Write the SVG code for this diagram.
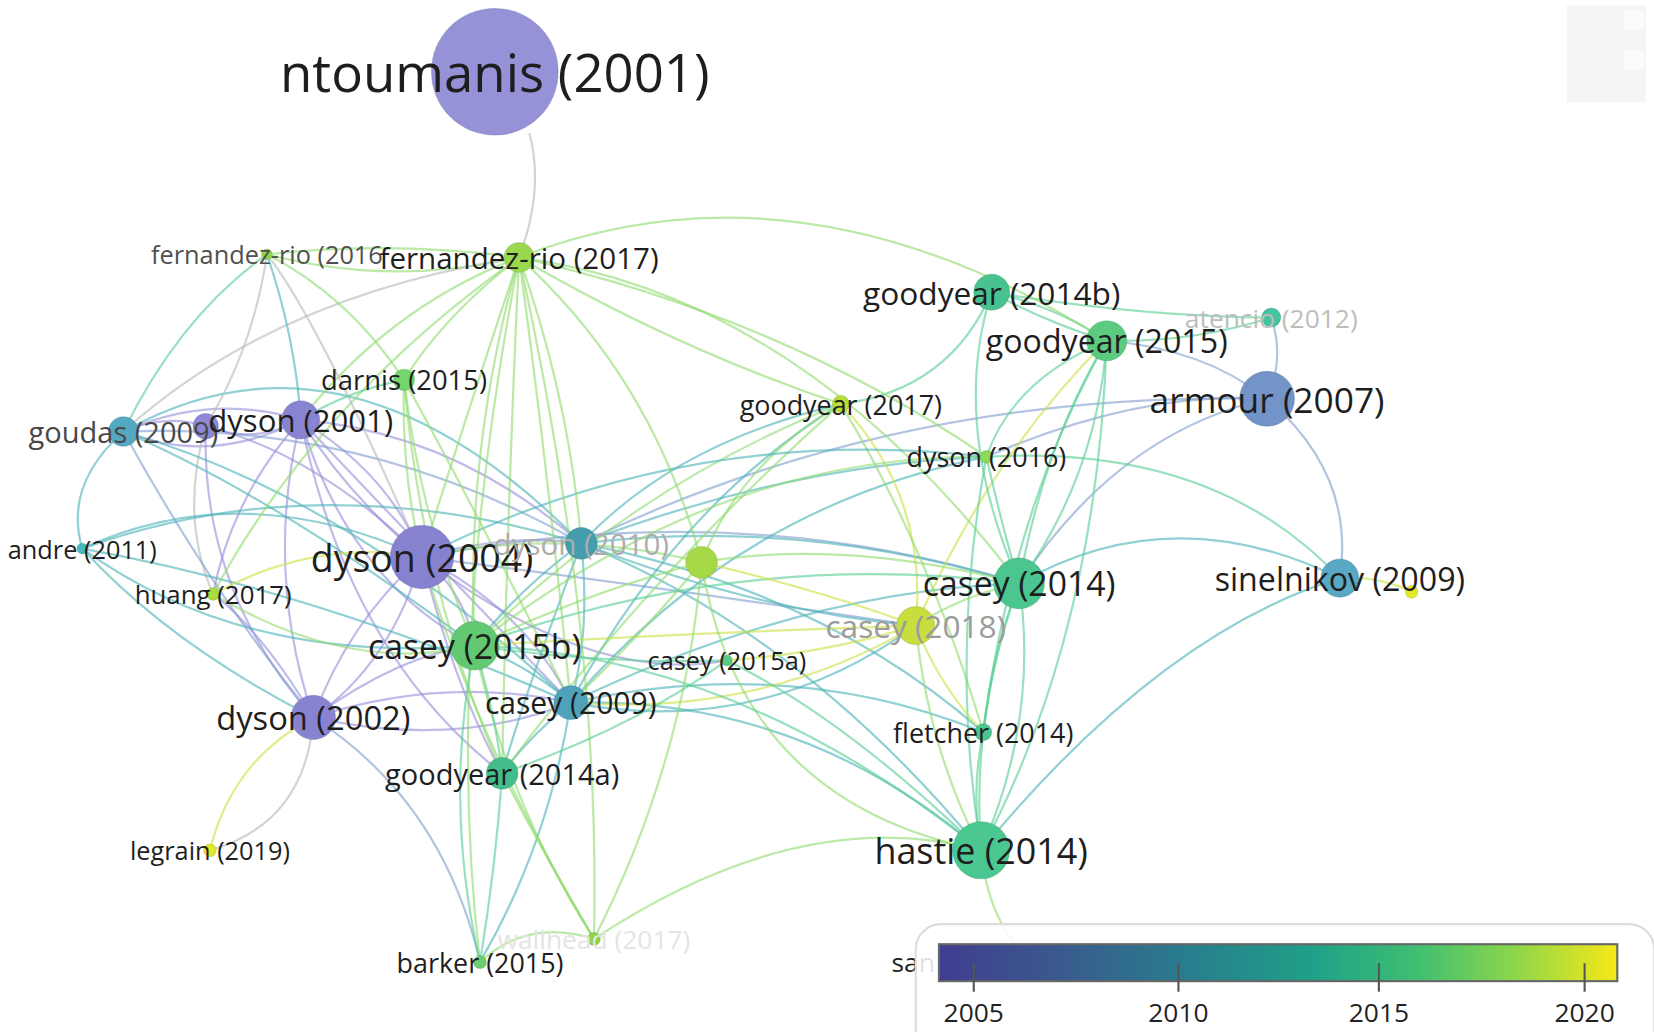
<svg xmlns="http://www.w3.org/2000/svg" width="1654" height="1032" viewBox="0 0 1654 1032">
<defs>
<style>
.e{fill:none;stroke-width:2.1;stroke-opacity:.62;stroke-linecap:round}
.ep{stroke:#9792da}.eb{stroke:#82a0d0}.et{stroke:#4db3b8}.eg{stroke:#5acf96}.el{stroke:#92dc70}.ey{stroke:#cde246}.ex{stroke:#b4bdb9}
.n{stroke-width:1;stroke-opacity:.3}
.l{font-family:"Open Sans","Noto Sans","DejaVu Sans",sans-serif;fill:#1e1e1e;text-anchor:middle;dominant-baseline:central}
.t{font-family:"Open Sans","Noto Sans","DejaVu Sans",sans-serif;fill:#222;font-size:25px;text-anchor:middle}
</style>
<linearGradient id="vir" x1="0" y1="0" x2="1" y2="0">
<stop offset="0" stop-color="#403d8f"/>
<stop offset="0.18" stop-color="#3a5a8e"/>
<stop offset="0.38" stop-color="#27808d"/>
<stop offset="0.55" stop-color="#1fa088"/>
<stop offset="0.7" stop-color="#3dbe72"/>
<stop offset="0.85" stop-color="#8ed64a"/>
<stop offset="1" stop-color="#f7e817"/>
</linearGradient>
</defs>
<rect width="1654" height="1032" fill="#ffffff"/>
<g transform="scale(1.055)">
<g id="artifact">
<rect x="1485" y="5" width="75" height="92" fill="#f5f5f5"/>
<rect x="1540" y="10" width="18" height="18" fill="#fbfbfb"/>
<rect x="1540" y="48" width="18" height="18" fill="#fbfbfb"/>
</g>
<g id="connectors">
<path class="e ep" d="M117 409 Q156 392 195 404"/>
<path class="e ep" d="M117 409 Q200 372 285 398"/>
<path class="e ep" d="M117 409 Q200 442 285 398"/>
<path class="e ep" d="M195 404 Q240 422 285 398"/>
<path class="e ep" d="M285 398 Q330 470 400 528"/>
<path class="e ep" d="M285 398 Q370 450 400 528"/>
<path class="e ep" d="M285 398 Q250 540 297 680"/>
<path class="e ep" d="M285 398 Q330 550 450 612"/>
<path class="e ep" d="M285 398 Q400 520 541 666"/>
<path class="e ep" d="M285 398 Q330 620 476 733"/>
<path class="e ep" d="M285 398 Q430 410 551 515"/>
<path class="e eb" d="M117 409 Q350 400 551 515"/>
<path class="e ep" d="M195 404 Q190 560 297 680"/>
<path class="e ep" d="M195 404 Q300 430 400 528"/>
<path class="e ex" d="M195 404 Q170 490 202 563"/>
<path class="e ep" d="M400 528 Q330 590 297 680"/>
<path class="e ep" d="M400 528 Q370 630 297 680"/>
<path class="e ep" d="M400 528 Q440 560 450 612"/>
<path class="e ep" d="M400 528 Q500 580 541 666"/>
<path class="e ep" d="M400 528 Q430 650 476 733"/>
<path class="e ep" d="M400 528 Q480 505 551 515"/>
<path class="e ep" d="M400 528 Q560 650 689 626"/>
<path class="e eb" d="M400 528 Q700 470 966 553"/>
<path class="e eb" d="M400 528 Q650 560 868 593"/>
<path class="e ep" d="M297 680 Q380 620 450 612"/>
<path class="e ep" d="M297 680 Q420 640 541 666"/>
<path class="e ep" d="M297 680 Q430 710 541 666"/>
<path class="e eb" d="M297 680 Q420 760 455 912"/>
<path class="e ex" d="M297 680 Q290 780 199 806"/>
<path class="e ey" d="M297 680 Q220 720 199 806"/>
<path class="e eb" d="M297 680 Q200 560 117 409"/>
<path class="e ep" d="M297 680 Q250 600 202 563"/>
<path class="e et" d="M297 680 Q160 610 78 520"/>
<path class="e ep" d="M285 398 Q220 470 202 563"/>
<path class="e et" d="M117 409 Q60 460 78 520"/>
<path class="e et" d="M78 520 Q230 450 400 528"/>
<path class="e et" d="M78 520 Q230 630 450 612"/>
<path class="e et" d="M78 520 Q300 560 541 666"/>
<path class="e et" d="M117 409 Q260 470 450 612"/>
<path class="e et" d="M117 409 Q330 470 541 666"/>
<path class="e et" d="M117 409 Q330 290 551 515"/>
<path class="e et" d="M78 520 Q300 440 551 515"/>
<path class="e et" d="M551 515 Q560 600 541 666"/>
<path class="e et" d="M551 515 Q490 560 450 612"/>
<path class="e et" d="M551 515 Q500 650 476 733"/>
<path class="e et" d="M551 515 Q760 490 966 553"/>
<path class="e et" d="M551 515 Q720 580 868 593"/>
<path class="e et" d="M551 515 Q760 600 930 806"/>
<path class="e et" d="M551 515 Q780 560 932 694"/>
<path class="e et" d="M551 515 Q750 440 935 433"/>
<path class="e et" d="M551 515 Q640 420 797 383"/>
<path class="e eb" d="M551 515 Q850 370 1201 378"/>
<path class="e et" d="M541 666 Q720 700 868 593"/>
<path class="e et" d="M541 666 Q760 660 930 806"/>
<path class="e et" d="M541 666 Q750 620 932 694"/>
<path class="e et" d="M541 666 Q760 560 966 553"/>
<path class="e et" d="M541 666 Q500 700 476 733"/>
<path class="e et" d="M541 666 Q500 630 450 612"/>
<path class="e et" d="M541 666 Q520 800 455 912"/>
<path class="e et" d="M541 666 Q640 480 797 383"/>
<path class="e et" d="M541 666 Q700 480 935 433"/>
<path class="e eb" d="M1201 378 Q1218 340 1205 301"/>
<path class="e eb" d="M1201 378 Q1140 330 1049 323"/>
<path class="e eb" d="M1201 378 Q1285 450 1270 548"/>
<path class="e eb" d="M1201 378 Q1060 410 966 553"/>
<path class="e eb" d="M1201 378 Q1080 370 935 433"/>
<path class="e et" d="M1270 548 Q1110 470 966 553"/>
<path class="e et" d="M1270 548 Q1100 600 930 806"/>
<path class="e eg" d="M1270 548 Q1150 420 935 433"/>
<path class="e ey" d="M1270 548 Q1305 545 1338 561"/>
<path class="e eg" d="M1049 323 Q1000 290 940 277"/>
<path class="e eg" d="M1049 323 Q990 305 940 277"/>
<path class="e eg" d="M1049 323 Q1130 325 1205 301"/>
<path class="e eg" d="M940 277 Q1080 300 1205 301"/>
<path class="e eg" d="M1049 323 Q1040 450 966 553"/>
<path class="e eg" d="M1049 323 Q990 420 966 553"/>
<path class="e eg" d="M1049 323 Q1040 600 930 806"/>
<path class="e eg" d="M1049 323 Q960 480 932 694"/>
<path class="e ey" d="M1049 323 Q940 430 868 593"/>
<path class="e eg" d="M1049 323 Q960 360 935 433"/>
<path class="e eg" d="M940 277 Q900 370 797 383"/>
<path class="e el" d="M492 244 Q760 140 1049 323"/>
<path class="e el" d="M492 244 Q760 280 966 553"/>
<path class="e el" d="M797 383 Q640 330 492 244"/>
<path class="e ey" d="M797 383 Q880 470 868 593"/>
<path class="e el" d="M797 383 Q700 440 665 533"/>
<path class="e el" d="M797 383 Q600 460 450 612"/>
<path class="e el" d="M797 383 Q620 540 476 733"/>
<path class="e el" d="M797 383 Q880 520 932 694"/>
<path class="e eg" d="M935 433 Q950 500 966 553"/>
<path class="e eg" d="M935 433 Q900 620 930 806"/>
<path class="e el" d="M935 433 Q680 430 450 612"/>
<path class="e et" d="M935 433 Q650 400 400 528"/>
<path class="e eg" d="M966 553 Q985 680 930 806"/>
<path class="e eg" d="M966 553 Q920 680 930 806"/>
<path class="e eg" d="M966 553 Q940 620 932 694"/>
<path class="e el" d="M966 553 Q910 565 868 593"/>
<path class="e eg" d="M966 553 Q700 520 450 612"/>
<path class="e el" d="M966 553 Q800 510 665 533"/>
<path class="e eg" d="M966 553 Q900 400 940 277"/>
<path class="e ey" d="M868 593 Q890 650 932 694"/>
<path class="e el" d="M868 593 Q880 710 930 806"/>
<path class="e ey" d="M868 593 Q780 620 689 626"/>
<path class="e ey" d="M868 593 Q650 600 450 612"/>
<path class="e ey" d="M868 593 Q720 680 541 666"/>
<path class="e eg" d="M930 806 Q920 750 932 694"/>
<path class="e el" d="M930 806 Q760 760 563 890"/>
<path class="e el" d="M930 806 Q935 860 962 895"/>
<path class="e eg" d="M930 806 Q800 680 689 626"/>
<path class="e el" d="M665 533 Q700 760 930 806"/>
<path class="e eg" d="M930 806 Q700 620 450 612"/>
<path class="e el" d="M665 533 Q530 500 400 528"/>
<path class="e el" d="M665 533 Q560 560 450 612"/>
<path class="e el" d="M665 533 Q610 600 541 666"/>
<path class="e el" d="M665 533 Q620 360 492 244"/>
<path class="e el" d="M665 533 Q650 720 563 890"/>
<path class="e ey" d="M665 533 Q780 560 868 593"/>
<path class="e ex" d="M492 244 Q516 180 502 127"/>
<path class="e el" d="M492 244 Q370 228 253 241"/>
<path class="e el" d="M492 244 Q370 272 253 241"/>
<path class="e el" d="M492 244 Q420 300 383 360"/>
<path class="e el" d="M492 244 Q370 290 285 398"/>
<path class="e ex" d="M492 244 Q260 280 117 409"/>
<path class="e el" d="M492 244 Q440 400 400 528"/>
<path class="e el" d="M492 244 Q440 430 450 612"/>
<path class="e el" d="M492 244 Q520 450 541 666"/>
<path class="e el" d="M492 244 Q480 500 476 733"/>
<path class="e el" d="M492 244 Q540 380 551 515"/>
<path class="e el" d="M492 244 Q300 380 202 563"/>
<path class="e el" d="M492 244 Q740 300 935 433"/>
<path class="e el" d="M492 244 Q420 620 455 912"/>
<path class="e el" d="M492 244 Q570 600 563 890"/>
<path class="e eg" d="M253 241 Q170 300 117 409"/>
<path class="e et" d="M253 241 Q280 320 285 398"/>
<path class="e ex" d="M253 241 Q240 330 195 404"/>
<path class="e el" d="M253 241 Q330 280 383 360"/>
<path class="e ex" d="M253 241 Q300 300 400 528"/>
<path class="e eg" d="M383 360 Q330 370 285 398"/>
<path class="e el" d="M383 360 Q380 450 400 528"/>
<path class="e el" d="M383 360 Q400 500 450 612"/>
<path class="e el" d="M383 360 Q460 500 541 666"/>
<path class="e el" d="M383 360 Q400 560 476 733"/>
<path class="e el" d="M563 890 Q500 870 455 912"/>
<path class="e el" d="M563 890 Q510 800 476 733"/>
<path class="e el" d="M563 890 Q480 760 450 612"/>
<path class="e el" d="M563 890 Q450 700 400 528"/>
<path class="e eg" d="M455 912 Q470 820 476 733"/>
<path class="e eg" d="M455 912 Q420 760 450 612"/>
<path class="e ey" d="M202 563 Q300 510 400 528"/>
<path class="e el" d="M202 563 Q330 640 450 612"/>
<path class="e eg" d="M450 612 Q470 680 476 733"/>
<path class="e eg" d="M450 612 Q570 630 689 626"/>
<path class="e eg" d="M476 733 Q600 690 689 626"/>
</g>

<g id="n-unlabeled-purple"><circle class="n" cx="195" cy="404" r="12" fill="#8c88d6" stroke="#5a55a0"/></g>
<g id="n-unlabeled-green"><circle class="n" cx="665" cy="533" r="15" fill="#a6d948" stroke="#7a9a20"/></g>
<g id="n-unlabeled-yellow"><circle class="n" cx="1338" cy="561" r="6" fill="#e4e82a" stroke="#a0a010"/></g>
<g id="n-ntoumanis-2001"><circle class="n" cx="469" cy="68" r="60" fill="#9692d8" stroke="#5a55a0"/><text class="l" x="469" y="68" font-size="50">ntoumanis (2001)</text></g>
<g id="n-fernandez-rio-2016"><circle class="n" cx="253" cy="241" r="5" fill="#8fd64a" stroke="#5a9a2a"/><text class="l" x="253" y="241" font-size="24" style="fill:#505050">fernandez-rio (2016</text></g>
<g id="n-fernandez-rio-2017"><circle class="n" cx="492" cy="244" r="14" fill="#9ad84e" stroke="#5a9a2a"/><text class="l" x="492" y="244" font-size="28">fernandez-rio (2017)</text></g>
<g id="n-goodyear-2014b"><circle class="n" cx="940" cy="277" r="17" fill="#47c290" stroke="#2a8a5a"/><text class="l" x="940" y="277" font-size="30">goodyear (2014b)</text></g>
<g id="n-goodyear-2015"><circle class="n" cx="1049" cy="323" r="19" fill="#5ccb80" stroke="#2a8a5a"/><text class="l" x="1049" y="323" font-size="30.5">goodyear (2015)</text></g>
<g id="n-atencio-2012"><circle class="n" cx="1205" cy="301" r="9" fill="#45c2a0" stroke="#2a8a6a"/><text class="l" x="1205" y="301" font-size="25" style="fill:#bdbdbd">atencio (2012)</text></g>
<g id="n-armour-2007"><circle class="n" cx="1201" cy="378" r="26" fill="#7394c8" stroke="#3f5f90"/><text class="l" x="1201" y="378" font-size="33.5">armour (2007)</text></g>
<g id="n-darnis-2015"><circle class="n" cx="383" cy="360" r="10" fill="#74d56c" stroke="#3a9a3a"/><text class="l" x="383" y="360" font-size="26">darnis (2015)</text></g>
<g id="n-goodyear-2017"><circle class="n" cx="797" cy="383" r="8" fill="#b6dd38" stroke="#7a9a20"/><text class="l" x="797" y="383" font-size="25.5">goodyear (2017)</text></g>
<g id="n-dyson-2016"><circle class="n" cx="935" cy="433" r="6" fill="#8ed85c" stroke="#5a9a2a"/><text class="l" x="935" y="433" font-size="25.5">dyson (2016)</text></g>
<g id="n-goudas-2009"><circle class="n" cx="117" cy="409" r="14" fill="#55a8c2" stroke="#2f6f8a"/><text class="l" x="117" y="409" font-size="27.5" style="fill:#484848">goudas (2009)</text></g>
<g id="n-dyson-2001"><circle class="n" cx="285" cy="398" r="18" fill="#8984d2" stroke="#5a55a0"/><text class="l" x="285" y="398" font-size="29.5">dyson (2001)</text></g>
<g id="n-andre-2011"><circle class="n" cx="78" cy="520" r="5" fill="#45baba" stroke="#2a8a8a"/><text class="l" x="78" y="520" font-size="24">andre (2011)</text></g>
<g id="n-dyson-2004"><circle class="n" cx="400" cy="528" r="30" fill="#8782cf" stroke="#5a55a0"/><text class="l" x="400" y="528" font-size="35.5">dyson (2004)</text></g>
<g id="n-dyson-2010"><circle class="n" cx="551" cy="515" r="15" fill="#449dad" stroke="#2a6a7a"/><text class="l" x="551" y="515" font-size="28" style="fill:#adadad">dyson (2010)</text></g>
<g id="n-huang-2017"><circle class="n" cx="202" cy="563" r="6" fill="#acdc40" stroke="#7a9a20"/><text class="l" x="202" y="563" font-size="24.5">huang (2017)</text></g>
<g id="n-casey-2015b"><circle class="n" cx="450" cy="612" r="23" fill="#62c972" stroke="#3a8a4a"/><text class="l" x="450" y="612" font-size="32">casey (2015b)</text></g>
<g id="n-casey-2015a"><circle class="n" cx="689" cy="626" r="5" fill="#5cc880" stroke="#3a8a4a"/><text class="l" x="689" y="626" font-size="24">casey (2015a)</text></g>
<g id="n-casey-2009"><circle class="n" cx="541" cy="666" r="16" fill="#50a2ba" stroke="#2f6f8a"/><text class="l" x="541" y="666" font-size="28.5">casey (2009)</text></g>
<g id="n-dyson-2002"><circle class="n" cx="297" cy="680" r="21" fill="#8883d0" stroke="#5a55a0"/><text class="l" x="297" y="680" font-size="31">dyson (2002)</text></g>
<g id="n-goodyear-2014a"><circle class="n" cx="476" cy="733" r="15" fill="#44bd8c" stroke="#2a8a5a"/><text class="l" x="476" y="733" font-size="27.5">goodyear (2014a)</text></g>
<g id="n-legrain-2019"><circle class="n" cx="199" cy="806" r="6" fill="#e6e629" stroke="#a0a010"/><text class="l" x="199" y="806" font-size="24">legrain (2019)</text></g>
<g id="n-barker-2015"><circle class="n" cx="455" cy="912" r="6" fill="#6ccd6c" stroke="#3a8a4a"/><text class="l" x="455" y="912" font-size="25.5">barker (2015)</text></g>
<g id="n-wallhead-2017"><circle class="n" cx="563" cy="890" r="6" fill="#8fd446" stroke="#5a9a2a"/><text class="l" x="563" y="890" font-size="25" style="fill:#e4e4e4">wallhead (2017)</text></g>
<g id="n-casey-2014"><circle class="n" cx="966" cy="553" r="24" fill="#4bc690" stroke="#2a8a5a"/><text class="l" x="966" y="553" font-size="32">casey (2014)</text></g>
<g id="n-casey-2018"><circle class="n" cx="868" cy="593" r="18" fill="#c8de3e" stroke="#8a9a20"/><text class="l" x="868" y="593" font-size="30" style="fill:#9c9c9c">casey (2018)</text></g>
<g id="n-sinelnikov-2009"><circle class="n" cx="1270" cy="548" r="18" fill="#5aa8c4" stroke="#2f6f8a"/><text class="l" x="1270" y="548" font-size="30.5">sinelnikov (2009)</text></g>
<g id="n-fletcher-2014"><circle class="n" cx="932" cy="694" r="8" fill="#4bc690" stroke="#2a8a5a"/><text class="l" x="932" y="694" font-size="25.5">fletcher (2014)</text></g>
<g id="n-hastie-2014"><circle class="n" cx="930" cy="806" r="27" fill="#4bc892" stroke="#2a8a5a"/><text class="l" x="930" y="806" font-size="34">hastie (2014)</text></g>
<g id="n-san"><text class="l" x="845" y="912" font-size="25" style="text-anchor:start">san</text></g>

<g id="legend">
<rect x="868" y="876" width="700" height="140" rx="24" fill="#ffffff" fill-opacity="0.86" stroke="#dcdcdc" stroke-width="2"/>
<rect x="890" y="895" width="643" height="35" fill="url(#vir)" stroke="#666" stroke-width="2"/>
<g stroke="#555" stroke-width="2">
<line x1="923" y1="913" x2="923" y2="940"/>
<line x1="1117" y1="913" x2="1117" y2="940"/>
<line x1="1307" y1="913" x2="1307" y2="940"/>
<line x1="1502" y1="913" x2="1502" y2="940"/>
</g>
<text class="t" x="923" y="969">2005</text>
<text class="t" x="1117" y="969">2010</text>
<text class="t" x="1307" y="969">2015</text>
<text class="t" x="1502" y="969">2020</text>
</g>
</g>
</svg>
